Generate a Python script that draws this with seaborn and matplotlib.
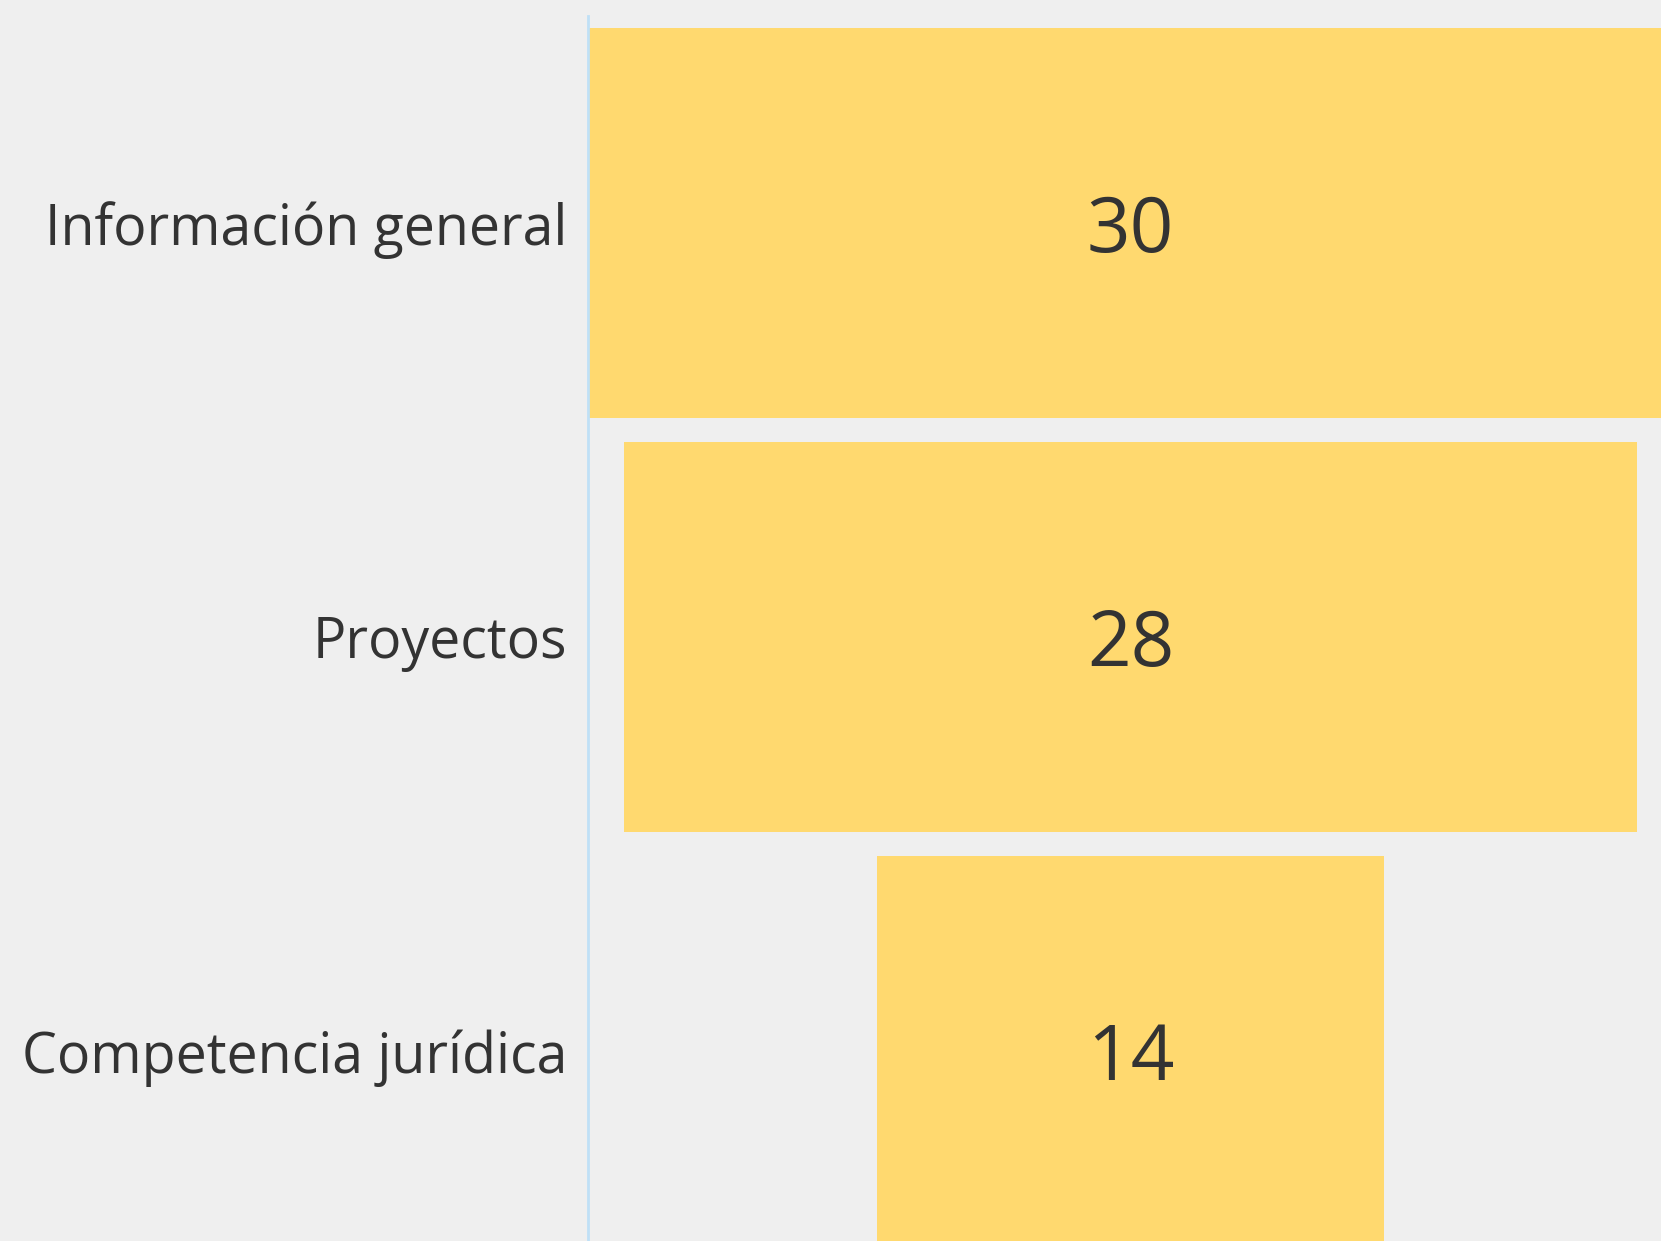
import matplotlib
matplotlib.use('Agg')
import matplotlib.pyplot as plt
import seaborn as sns
import pandas as pd

# ── datos ─────────────────────────────────────────────────────────────
categorias = ['Información general', 'Proyectos', 'Competencia jurídica']
valores    = [30, 28, 14]

BG_COLOR   = '#efefef'
BAR_COLOR  = '#ffd96f'
TEXT_COLOR = '#333333'
LINE_COLOR = '#bfe0f6'

W, H, DPI = 1661, 1241, 100

sns.set_theme(style='white')
plt.rcParams['font.family'] = ['Open Sans', 'DejaVu Sans']

df = pd.DataFrame({'categoria': categorias, 'valor': valores})

fig = plt.figure(figsize=(W / DPI, H / DPI), dpi=DPI, facecolor=BG_COLOR)
# eje en pixeles: izquierda 588, arriba 16
ax = fig.add_axes([588 / W, 0, 1 - 588 / W, (H - 16) / H])
ax.set_facecolor(BG_COLOR)

sns.barplot(data=df, x='valor', y='categoria', orient='y', color=BAR_COLOR,
            saturation=1, width=390 / 414, ax=ax)

# embudo: cada barra centrada en 0
for p in ax.patches:
    p.set_x(-p.get_width() / 2)
    p.set_edgecolor('none')

for i, v in enumerate(valores):
    ax.text(0, i, f'{v}', ha='center', va='center_baseline', fontsize=55,
            color=TEXT_COLOR)

ax.set_xlim(-15, (W - 1131) / 36.13)
ax.set_ylim(2.459, -0.5)
ax.set_xlabel('')
ax.set_ylabel('')
ax.set_xticks([])
ax.tick_params(axis='y', length=0, pad=15, labelsize=40, labelcolor=TEXT_COLOR)

for s in ['top', 'right', 'bottom']:
    ax.spines[s].set_visible(False)
ax.spines['left'].set_color(LINE_COLOR)
ax.spines['left'].set_linewidth(2)
ax.spines['left'].set_zorder(5)

fig.savefig('out.png', dpi=DPI, facecolor=BG_COLOR)
